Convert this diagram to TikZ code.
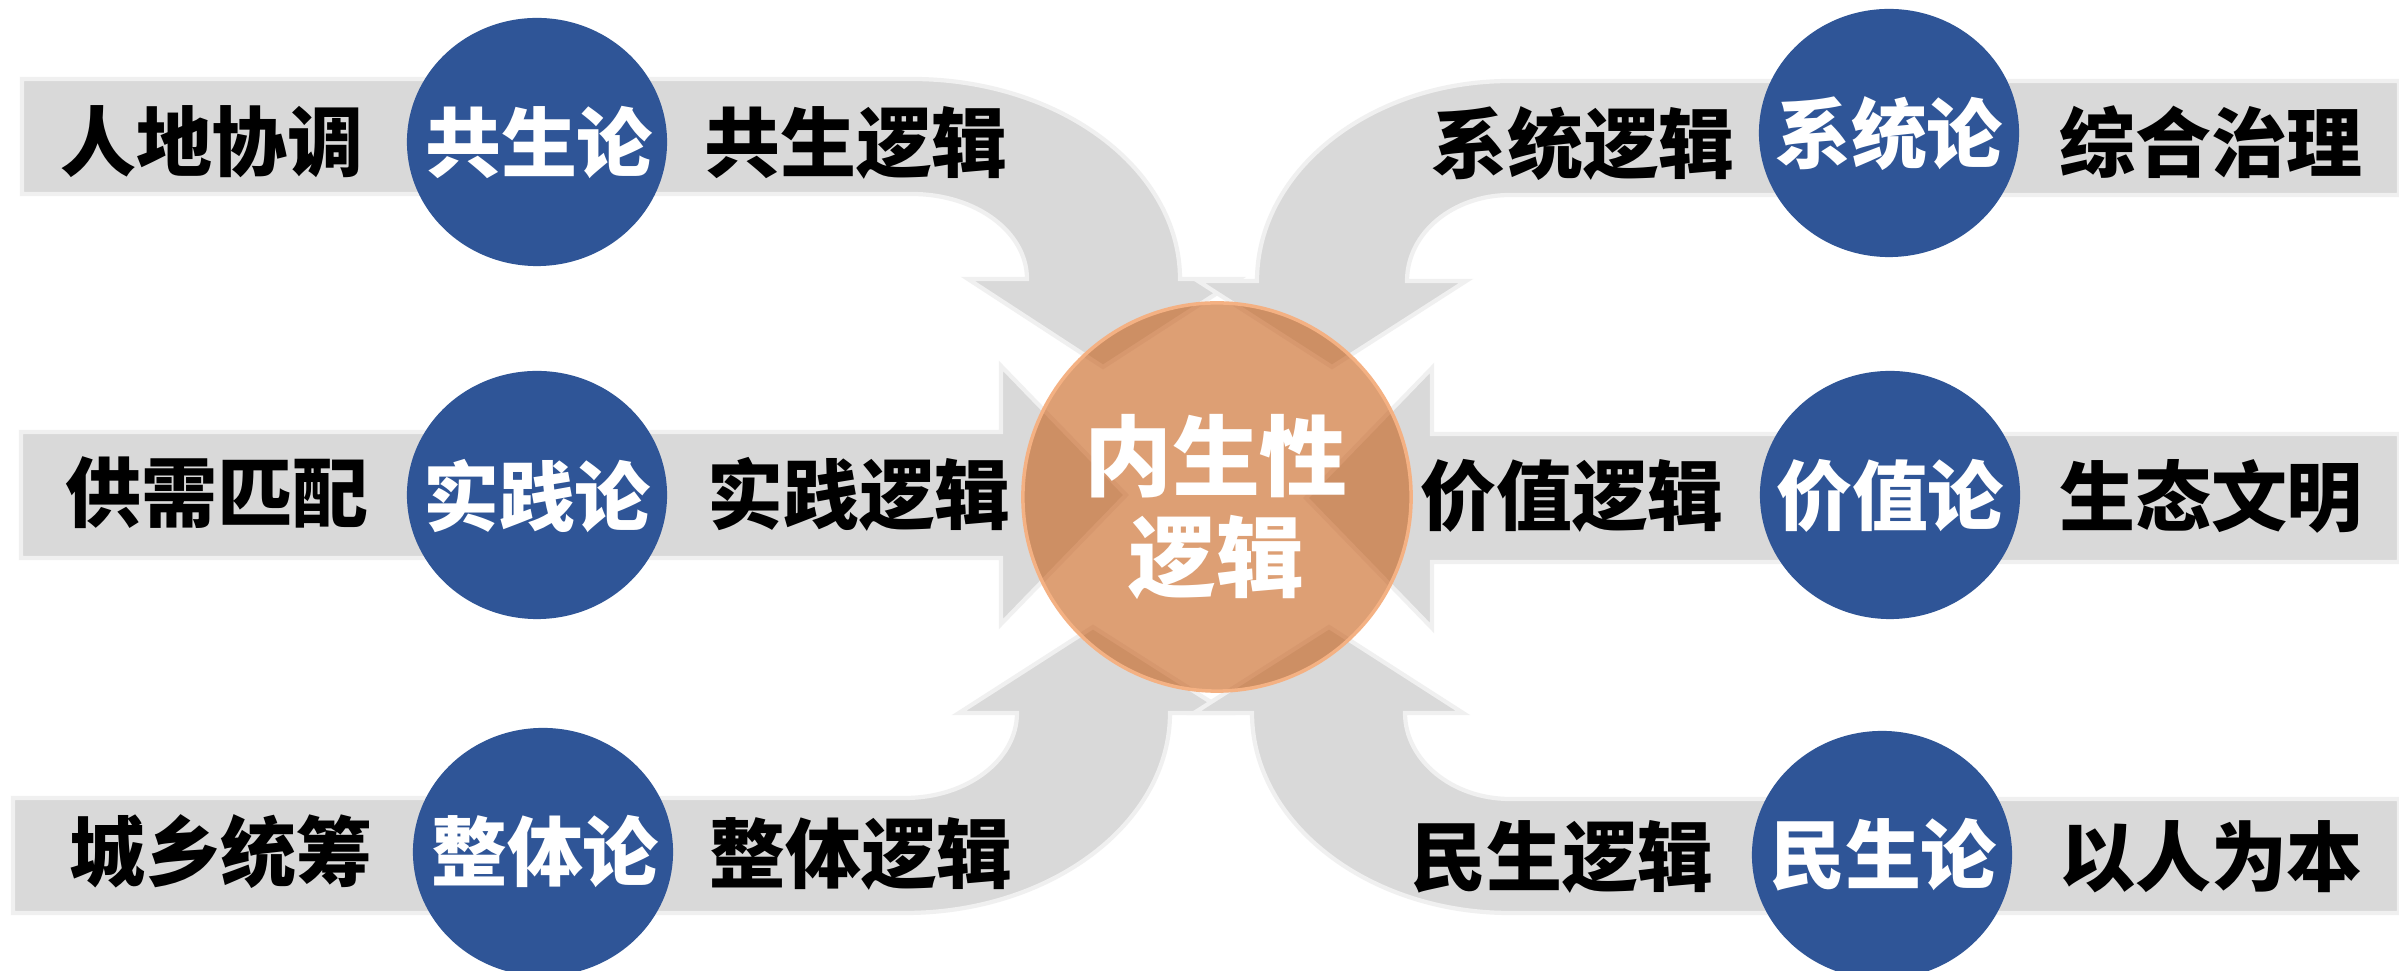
\documentclass[tikz,border=0pt]{standalone}
\usepackage{fontspec}
\usetikzlibrary{shapes.geometric}
\newfontfamily\cjk{Noto Sans CJK SC}
\definecolor{bandgray}{RGB}{217,217,217}
\definecolor{bandedge}{RGB}{240,240,240}
\definecolor{bluefill}{RGB}{47,85,151}
\definecolor{orangefill}{RGB}{197,90,17}
\definecolor{orangeedge}{RGB}{244,177,131}
\tikzset{
  band/.style={fill=bandgray, draw=bandedge, line width=1.2pt, line join=miter},
  theory/.style={ellipse, fill=bluefill, draw=none, minimum width=2.6cm, minimum height=2.48cm, inner sep=0pt},
  theorytext/.style={inner sep=0pt, text=white, font=\cjk\bfseries\fontsize{21.6pt}{26pt}\selectfont},
  lbl/.style={inner sep=0pt, text=black, font=\cjk\bfseries\fontsize{21.6pt}{26pt}\selectfont},
  core/.style={circle, fill=orangefill, fill opacity=0.58, draw=orangeedge, draw opacity=1, line width=1pt,
    minimum size=3.88cm, inner sep=0pt},
  coretext/.style={inner sep=0pt, text=white, align=center, font=\cjk\bfseries\fontsize{25pt}{29pt}\selectfont}
}
\begin{document}
\begin{tikzpicture}[x=0.01cm, y=-0.01cm]
\useasboundingbox (0,0) rectangle (2399,971);
\clip (0,0) rectangle (2399,971);
\fill[white] (0,0) rectangle (2399,971);
% ---- gray bent arrows ----
% top-left
\path[band] (22,79) -- (912,79) .. controls (1060,79) and (1180,169) .. (1180,279)
  -- (1239,279) -- (1103,367) -- (968,279) -- (1027,279)
  .. controls (1027,232) and (976,194) .. (912,194) -- (22,194) -- cycle;
% top-right
\path[band] (2399,81) -- (1510,81) .. controls (1370,81) and (1257,171) .. (1257,281)
  -- (1198,281) -- (1332,367) -- (1466,281) -- (1407,281)
  .. controls (1407,233) and (1453,195) .. (1510,195) -- (2399,195) -- cycle;
% middle-left
\path[band] (21,432) -- (1001,432) -- (1001,366) -- (1126,495) -- (1001,624) -- (1001,558) -- (21,558) -- cycle;
% middle-right
\path[band] (2399,434) -- (1432,434) -- (1432,368) -- (1306,498) -- (1432,628) -- (1432,562) -- (2399,562) -- cycle;
% bottom-left
\path[band] (13,913) -- (905,913) .. controls (1051,913) and (1170,823) .. (1170,713)
  -- (1228,713) -- (1093,627) -- (959,713) -- (1017,713)
  .. controls (1017,760) and (967,798) .. (905,798) -- (13,798) -- cycle;
% bottom-right
\path[band] (2399,913) -- (1510,913) .. controls (1368,913) and (1252,823) .. (1252,713)
  -- (1194,713) -- (1329,627) -- (1463,713) -- (1405,713)
  .. controls (1405,760) and (1452,799) .. (1510,799) -- (2399,799) -- cycle;
% ---- central circle ----
\node[core] (core) at (1217,497) {};
\node[coretext] (coretxt) at (1216,507) {内生性\\逻辑};
% ---- theory circles ----
\node[theory] (gongsheng) at (537,142) {};
\node[theory] (shijian) at (537,495) {};
\node[theory] (zhengti) at (543,852) {};
\node[theory] (xitong) at (1889,133) {};
\node[theory] (jiazhi) at (1890,495) {};
\node[theory] (minsheng) at (1882,855) {};
\node[theorytext] (gongshengt) at (539,143) {共生论};
\node[theorytext] (shijiant) at (537,496) {实践论};
\node[theorytext] (zhengtit) at (545,852) {整体论};
\node[theorytext] (xitongt) at (1889,134) {系统论};
\node[theorytext] (jiazhit) at (1890,496) {价值论};
\node[theorytext] (minshengt) at (1883,855) {民生论};
% ---- labels ----
\node[lbl] (l1a) at (212,142) {人地协调};
\node[lbl] (l1b) at (856,143) {共生逻辑};
\node[lbl] (l2a) at (217,493) {供需匹配};
\node[lbl] (l2b) at (859,494) {实践逻辑};
\node[lbl] (l3a) at (221,852) {城乡统筹};
\node[lbl] (l3b) at (861,854) {整体逻辑};
\node[lbl] (r1a) at (1583,144) {系统逻辑};
\node[lbl] (r1b) at (2211,142) {综合治理};
\node[lbl] (r2a) at (1572,496) {价值逻辑};
\node[lbl] (r2b) at (2211,496) {生态文明};
\node[lbl] (r3a) at (1562,857) {民生逻辑};
\node[lbl] (r3b) at (2211,857) {以人为本};
\end{tikzpicture}
\end{document}
